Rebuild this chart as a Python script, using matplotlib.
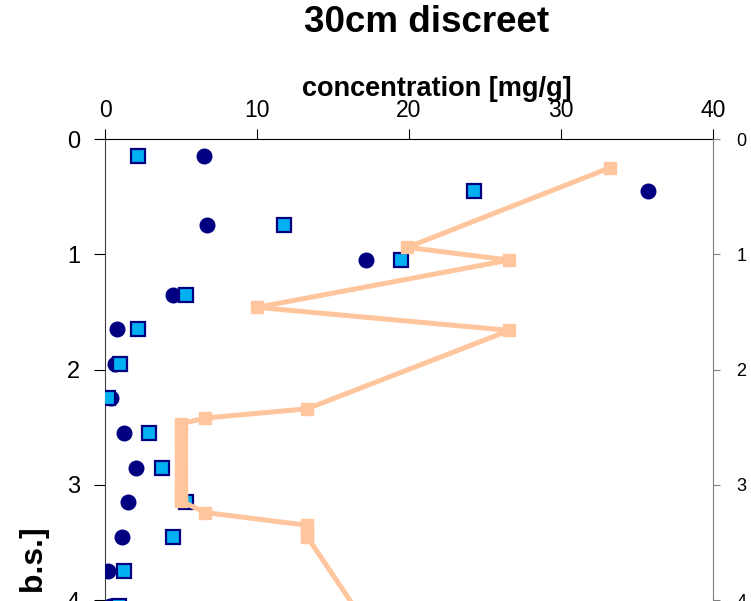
import matplotlib.pyplot as plt

plt.rcParams['font.family'] = ['Liberation Sans', 'DejaVu Sans']

# depth [m b.s.] and concentration [mg/g]
depth_a = [0.15, 0.45, 0.75, 1.05, 1.35, 1.65, 1.95, 2.25, 2.55, 2.85, 3.15, 3.45, 3.75, 4.05]
conc_a = [6.5, 35.7, 6.7, 17.2, 4.5, 0.8, 0.65, 0.4, 1.25, 2.05, 1.5, 1.1, 0.2, 0.3]

depth_b = [0.15, 0.45, 0.75, 1.05, 1.35, 1.65, 1.95, 2.25, 2.55, 2.85, 3.15, 3.45, 3.75, 4.05]
conc_b = [2.2, 24.3, 11.8, 19.5, 5.3, 2.2, 1.0, 0.2, 2.9, 3.75, 5.3, 4.5, 1.25, 0.9]

depth_c = [0.25, 0.94, 1.05, 1.46, 1.66, 2.34, 2.42, 2.47, 2.55, 2.63, 2.71, 2.79,
           2.87, 2.95, 3.03, 3.10, 3.14, 3.24, 3.35, 3.40, 3.45, 4.35]
conc_c = [33.2, 19.9, 26.6, 10.0, 26.6, 13.3, 6.6, 5.0, 5.0, 5.0, 5.0, 5.0,
          5.0, 5.0, 5.0, 5.0, 5.0, 6.6, 13.3, 13.3, 13.3, 17.9]

fig = plt.figure(figsize=(7.51, 6.01), dpi=100)
# axes continue below the visible area (chart is cropped at the bottom)
ax = fig.add_axes([105 / 751, 1 - 139 / 601 - 6 * 115.3 / 601, 608 / 751, 6 * 115.3 / 601])

ax.plot(conc_a, depth_a, 'o', color='#000080', markersize=10.5, zorder=3)
ax.plot(conc_b, depth_b, 's', markerfacecolor='#00B0F0', markeredgecolor='#000080',
        markeredgewidth=1.6, markersize=9.5, zorder=4)
ax.plot(conc_c, depth_c, '-s', color='#FFC69E', linewidth=3.6, markersize=8.6, zorder=5)

ax.set_xlim(0, 40)
ax.set_ylim(6, 0)
ax.set_xticks([0, 10, 20, 30, 40])
ax.set_yticks([0, 1, 2, 3, 4, 5, 6])
ax.xaxis.tick_top()
ax.tick_params(axis='x', labelsize=16.5, length=7, pad=5)
ax.tick_params(axis='y', labelsize=17, length=8, pad=10)
ax.spines['bottom'].set_visible(False)
ax.spines['right'].set_visible(False)
ax.spines['left'].set_color('#404040')

ax2 = ax.twinx()
ax2.set_ylim(6, 0)
ax2.set_yticks([0, 1, 2, 3, 4, 5, 6])
ax2.tick_params(axis='y', labelsize=13, length=5, pad=12, color='#808080')
for s in ['top', 'bottom', 'left']:
    ax2.spines[s].set_visible(False)
ax2.spines['right'].set_color('#808080')

fig.text(427 / 751, 1 - 22 / 601, '30cm discreet', ha='center', va='center',
         fontsize=26.5, fontweight='bold')
fig.text(437 / 751, 1 - 89 / 601, 'concentration [mg/g]', ha='center', va='center',
         fontsize=19.5, fontweight='bold')
fig.text(35 / 751, 1 - 527 / 601, 'depth [m b.s.]', ha='center', va='top',
         rotation=90, fontsize=23, fontweight='bold')

plt.savefig('out.png', dpi=100)
